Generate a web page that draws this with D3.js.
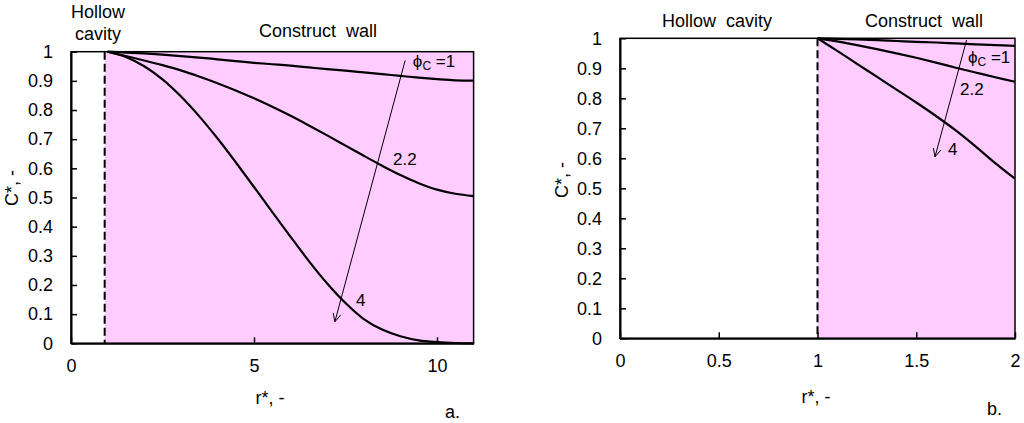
<!DOCTYPE html>
<html>
<head>
<meta charset="utf-8">
<script src="https://cdn.jsdelivr.net/npm/d3@7"></script>
<style>
  body { margin: 0; background: #fff; }
  text { font-family: "Liberation Sans", Arial, sans-serif; fill: #000; white-space: pre; }
</style>
</head>
<body>
<svg id="chart" width="1024" height="423"></svg>
<script>
// panel a: r* from the wall (r*=1) out to 11
var rA = [1, 1.5, 2, 2.5, 3, 3.5, 4, 4.5, 5, 5.5, 6, 6.5, 7, 7.5, 8, 8.5, 9, 9.5, 10, 10.5, 11];
var cA_1 = [1, 0.997, 0.994, 0.99, 0.985, 0.98, 0.974, 0.968, 0.962, 0.957, 0.952, 0.946, 0.94, 0.935, 0.929, 0.923, 0.917, 0.911, 0.906, 0.902, 0.901];
var cA_22 = [1, 0.985, 0.97, 0.954, 0.936, 0.915, 0.892, 0.867, 0.84, 0.811, 0.78, 0.747, 0.713, 0.678, 0.643, 0.609, 0.577, 0.549, 0.527, 0.513, 0.505];
var cA_4 = [1, 0.982, 0.95, 0.905, 0.847, 0.779, 0.703, 0.621, 0.536, 0.45, 0.365, 0.282, 0.205, 0.138, 0.083, 0.047, 0.024, 0.01, 0.004, 0.001, 0];

// panel b: zoom on r* = 1..2
var rB = [1, 1.1, 1.2, 1.3, 1.4, 1.5, 1.6, 1.7, 1.8, 1.9, 2];
var cB_1 = [1, 0.998, 0.996, 0.994, 0.991, 0.988, 0.986, 0.983, 0.98, 0.977, 0.975];
var cB_22 = [1, 0.99, 0.977, 0.964, 0.95, 0.935, 0.919, 0.902, 0.886, 0.87, 0.855];
var cB_4 = [1, 0.958, 0.915, 0.872, 0.829, 0.786, 0.741, 0.693, 0.64, 0.584, 0.532];

var ticksA = [0, 5, 10];
var ticksB = [0, 0.5, 1, 1.5, 2];
var ticksY = [0, 0.1, 0.2, 0.3, 0.4, 0.5, 0.6, 0.7, 0.8, 0.9, 1];

var wallA = 0.92;
var wallB = 1;

window.addEventListener("load", run);

function run() {
    var svg = d3.select("#chart");

    drawPanel(svg, {
        x0: 71, x1: 473.6, y0: 343.3, y1: 51.7,
        domain: [0, 11], ticks: ticksA, fmt: d3.format("d"),
        wall: wallA, r: rA, series: [cA_1, cA_22, cA_4],
        arrow: [[9.13, 0.97], [7.21, 0.074]],
        labels: [[9.34, 0.946], [8.8, 0.613], [7.79, 0.128]],
        ylab: [18, 188], xlab: [270, 404], tag: ["a.", 445, 418]
    });

    drawPanel(svg, {
        x0: 620, x1: 1015, y0: 338.3, y1: 38.3,
        domain: [0, 2], ticks: ticksB, fmt: function (d) { return String(d); },
        wall: wallB, r: rB, series: [cB_1, cB_22, cB_4],
        arrow: [[1.755, 0.994], [1.595, 0.605]],
        labels: [[1.762, 0.918], [1.722, 0.811], [1.661, 0.611]],
        ylab: [568, 180], xlab: [816, 403], tag: ["b.", 987, 415]
    });

    // headings
    svg.append("text").attr("x", 98).attr("y", 18).style("text-anchor", "middle").style("font-size", "18px").text("Hollow");
    svg.append("text").attr("x", 98).attr("y", 39.5).style("text-anchor", "middle").style("font-size", "18px").text("cavity");
    svg.append("text").attr("x", 318).attr("y", 36.5).style("text-anchor", "middle").style("font-size", "18px").text("Construct  wall");
    svg.append("text").attr("x", 717).attr("y", 26.5).style("text-anchor", "middle").style("font-size", "18px").text("Hollow  cavity");
    svg.append("text").attr("x", 924).attr("y", 26.5).style("text-anchor", "middle").style("font-size", "18px").text("Construct  wall");
}

function drawPanel(svg, p) {
    var x = d3.scaleLinear().domain(p.domain).range([p.x0, p.x1]);
    var y = d3.scaleLinear().domain([0, 1]).range([p.y0, p.y1]);
    var g = svg.append("g");

    // construct wall region
    g.append("rect")
        .attr("x", x(p.wall))
        .attr("y", y(1))
        .attr("width", x(p.domain[1]) - x(p.wall))
        .attr("height", y(0) - y(1))
        .style("fill", "#ffccff");

    g.append("line")
        .attr("x1", x(p.wall)).attr("y1", y(1))
        .attr("x2", x(p.wall)).attr("y2", y(0))
        .style("stroke", "#000")
        .style("stroke-width", "2px")
        .style("stroke-dasharray", "8,4");

    var line = d3.line()
        .x(function (d) { return x(d[0]); })
        .y(function (d) { return y(d[1]); })
        .curve(d3.curveCatmullRom.alpha(0.5));

    p.series.forEach(function (vals) {
        g.append("path")
            .datum(p.r.map(function (r, i) { return [r, vals[i]]; }))
            .attr("d", line)
            .style("fill", "none")
            .style("stroke", "#000")
            .style("stroke-width", "2.2px");
    });

    // frame
    g.append("rect")
        .attr("x", x(p.domain[0])).attr("y", y(1))
        .attr("width", x(p.domain[1]) - x(p.domain[0]))
        .attr("height", y(0) - y(1))
        .style("fill", "none")
        .style("stroke", "#000")
        .style("stroke-width", "1.5px");

    var ax = g.append("g")
        .attr("transform", "translate(0," + y(0) + ")")
        .call(d3.axisBottom(x).tickValues(p.ticks).tickFormat(p.fmt).tickSizeInner(-6).tickSizeOuter(0).tickPadding(16));
    var ay = g.append("g")
        .attr("transform", "translate(" + x(p.domain[0]) + ",0)")
        .call(d3.axisLeft(y).tickValues(ticksY).tickFormat(d3.format("")).tickSizeInner(-6).tickSizeOuter(0).tickPadding(18));
    [ax, ay].forEach(function (a) {
        a.selectAll("path").style("stroke", "#000").style("stroke-width", "2px");
        a.selectAll("line").style("stroke", "#000").style("stroke-width", "1.5px");
        a.selectAll("text").style("font-size", "18px").style("font-family", "Liberation Sans, Arial, sans-serif").attr("fill", "#000");
    });

    // arrow across the curves
    var ah = g.append("g");
    var a0 = [x(p.arrow[0][0]), y(p.arrow[0][1])];
    var a1 = [x(p.arrow[1][0]), y(p.arrow[1][1])];
    ah.append("line")
        .attr("x1", a0[0]).attr("y1", a0[1])
        .attr("x2", a1[0]).attr("y2", a1[1])
        .style("stroke", "#000")
        .style("stroke-width", "1px");
    var ang = Math.atan2(a1[1] - a0[1], a1[0] - a0[0]);
    [-0.45, 0.45].forEach(function (da) {
        ah.append("line")
            .attr("x1", a1[0]).attr("y1", a1[1])
            .attr("x2", a1[0] - 9 * Math.cos(ang + da))
            .attr("y2", a1[1] - 9 * Math.sin(ang + da))
            .style("stroke", "#000")
            .style("stroke-width", "1px");
    });

    // curve labels
    var phi = g.append("text")
        .attr("x", x(p.labels[0][0]))
        .attr("y", y(p.labels[0][1]))
        .style("font-size", "17px");
    phi.append("tspan").text("ϕ");
    phi.append("tspan").attr("dy", 3).style("font-size", "12px").text("C");
    phi.append("tspan").attr("dy", -3).text(" =1");

    g.append("text")
        .attr("x", x(p.labels[1][0]))
        .attr("y", y(p.labels[1][1]))
        .style("font-size", "17px")
        .text("2.2");
    g.append("text")
        .attr("x", x(p.labels[2][0]))
        .attr("y", y(p.labels[2][1]))
        .style("font-size", "17px")
        .text("4");

    // axis titles
    g.append("text")
        .attr("transform", "translate(" + p.ylab[0] + "," + p.ylab[1] + ") rotate(-90)")
        .style("text-anchor", "middle")
        .style("font-size", "18px")
        .text("C*, -");
    g.append("text")
        .attr("x", p.xlab[0]).attr("y", p.xlab[1])
        .style("text-anchor", "middle")
        .style("font-size", "18px")
        .text("r*, -");
    g.append("text")
        .attr("x", p.tag[1]).attr("y", p.tag[2])
        .style("font-size", "18px")
        .text(p.tag[0]);
}
</script>
</body>
</html>
